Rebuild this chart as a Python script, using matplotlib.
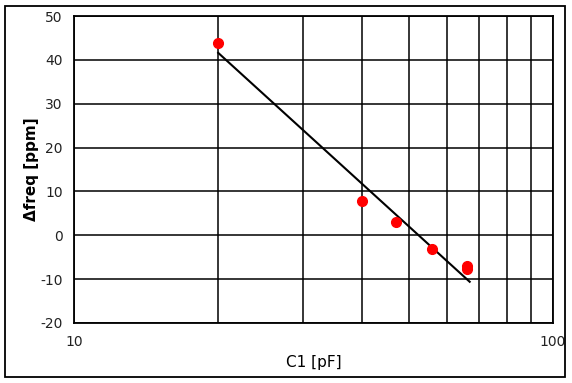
import matplotlib
matplotlib.use('Agg')
import matplotlib.pyplot as plt
from matplotlib.patches import Rectangle
from matplotlib.ticker import FixedLocator, NullFormatter

# measured points
c1_pf = [20, 40, 47, 56, 66, 66]
dfreq_ppm = [43.8, 7.8, 3.1, -3.2, -7.0, -7.6]

# fitted line (log fit) end points
fit_x = [20, 67]
fit_y = [41.6, -10.6]

x_ticks = [10, 100]
y_ticks = [-20, -10, 0, 10, 20, 30, 40, 50]

plt.rcParams['font.family'] = ['DejaVu Sans']
plt.rcParams['axes.unicode_minus'] = False

fig = plt.figure(figsize=(5.72, 3.83), dpi=100)
ax = fig.add_axes([74 / 572, 60 / 383, 479 / 572, 307 / 383])

ax.set_xscale('log')
ax.set_xlim(10, 100)
ax.set_ylim(-20, 50)

ax.plot(fit_x, fit_y, color='black', lw=1.5, zorder=3)
ax.plot(c1_pf, dfreq_ppm, 'o', color='red', ms=7, mec='red', zorder=4)

ax.xaxis.set_major_locator(FixedLocator(x_ticks))
ax.xaxis.set_minor_locator(FixedLocator([20, 30, 40, 50, 60, 70, 80, 90]))
ax.xaxis.set_minor_formatter(NullFormatter())
ax.set_xticklabels([str(t) for t in x_ticks])
ax.set_yticks(y_ticks)
ax.grid(True, which='both', color='black', lw=1.1)
ax.tick_params(which='both', length=0, labelsize=10, labelcolor='#222222')
ax.tick_params(axis='x', pad=9)
ax.tick_params(axis='y', pad=8)
for s in ax.spines.values():
    s.set_linewidth(1.3)

ax.set_xlabel('C1 [pF]', fontsize=11, labelpad=4)
ax.set_ylabel('Δfreq [ppm]', fontsize=11, fontweight='bold', labelpad=1)

# outer frame
fig.patches.append(Rectangle((5 / 572, 6 / 383), 560 / 572, 371 / 383,
                             transform=fig.transFigure, fill=False,
                             edgecolor='black', lw=1.3))

fig.savefig('out.png', dpi=100)
